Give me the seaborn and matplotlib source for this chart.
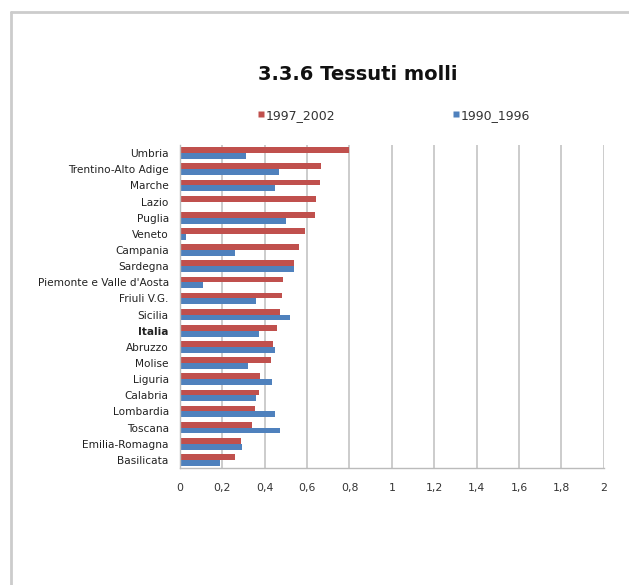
import matplotlib
matplotlib.use("Agg")
import matplotlib.pyplot as plt
import seaborn as sns
import pandas as pd
from matplotlib.lines import Line2D

regions = ["Umbria", "Trentino-Alto Adige", "Marche", "Lazio", "Puglia", "Veneto",
           "Campania", "Sardegna", "Piemonte e Valle d'Aosta", "Friuli V.G.", "Sicilia",
           "Italia", "Abruzzo", "Molise", "Liguria", "Calabria", "Lombardia", "Toscana",
           "Emilia-Romagna", "Basilicata"]
v_1997_2002 = [0.80, 0.667, 0.663, 0.644, 0.636, 0.59, 0.56, 0.54, 0.485, 0.48, 0.47,
               0.458, 0.44, 0.428, 0.376, 0.373, 0.354, 0.34, 0.29, 0.262]
v_1990_1996 = [0.31, 0.467, 0.45, 0.0, 0.50, 0.03, 0.26, 0.537, 0.11, 0.36, 0.518,
               0.373, 0.45, 0.32, 0.433, 0.357, 0.447, 0.474, 0.292, 0.19]
series = ["1997_2002", "1990_1996"]
colors = ["#C0504D", "#4F81BD"]
xticks = [0, 0.2, 0.4, 0.6, 0.8, 1, 1.2, 1.4, 1.6, 1.8, 2]
xticklabels = ["0", "0,2", "0,4", "0,6", "0,8", "1", "1,2", "1,4", "1,6", "1,8", "2"]

df = pd.DataFrame({
    "region": regions * 2,
    "value": v_1997_2002 + v_1990_1996,
    "period": [series[0]] * len(regions) + [series[1]] * len(regions),
})

sns.set_style("white")
plt.rcParams['font.family'] = ['DejaVu Sans']

fig = plt.figure(figsize=(6.29, 5.85), dpi=100)
ax = fig.add_axes([0.286, 0.200, 0.674, 0.552])

sns.barplot(data=df, y="region", x="value", hue="period", order=regions,
            hue_order=series, palette=colors, orient="h", width=0.72,
            ax=ax, legend=False, saturation=1, edgecolor="none")

ax.set_xlim(0, 2)
ax.set_xticks(xticks)
ax.set_xticklabels(xticklabels, fontsize=7.8, color="#333333")
ax.set_xlabel("")
ax.set_ylabel("")
ax.tick_params(axis="y", length=0, pad=8, labelsize=7.6, labelcolor="#222222")
ax.tick_params(axis="x", length=4, width=0.8, color="#BBBBBB", pad=7, direction="out")
for lab in ax.get_yticklabels():
    if lab.get_text() == "Italia":
        lab.set_fontweight("bold")
ax.set_axisbelow(True)
ax.grid(axis="x", color="#C4C4C4", linewidth=1.2)
ax.grid(axis="y", visible=False)
for s in ["top", "right"]:
    ax.spines[s].set_visible(False)
for s in ["left", "bottom"]:
    ax.spines[s].set_color("#BBBBBB")
    ax.spines[s].set_linewidth(1.0)
ax.set_yticks([i + 0.5 for i in range(-1, len(regions))], minor=True)
ax.tick_params(axis="y", which="minor", length=3, color="#BBBBBB")

fig.text(0.568, 0.872, "3.3.6 Tessuti molli", ha="center", va="center",
         fontsize=14, fontweight="bold", color="#111111")

handles = [Line2D([0], [0], marker="s", color="none", markerfacecolor=c,
                  markeredgecolor="none", markersize=4.5) for c in colors]
fig.legend(handles, series, loc="center", bbox_to_anchor=(0.625, 0.803), ncol=2,
           frameon=False, fontsize=9, handletextpad=0.05, columnspacing=9.3,
           handlelength=0.7, labelcolor="#333333")

fig.add_artist(Line2D([11 / 629, 11 / 629], [0, 1 - 12 / 585], color="#CCCCCC", linewidth=2,
                      transform=fig.transFigure))
fig.add_artist(Line2D([11 / 629, 1], [1 - 12 / 585, 1 - 12 / 585], color="#CCCCCC", linewidth=2,
                      transform=fig.transFigure))

fig.savefig("out.png", dpi=100)
